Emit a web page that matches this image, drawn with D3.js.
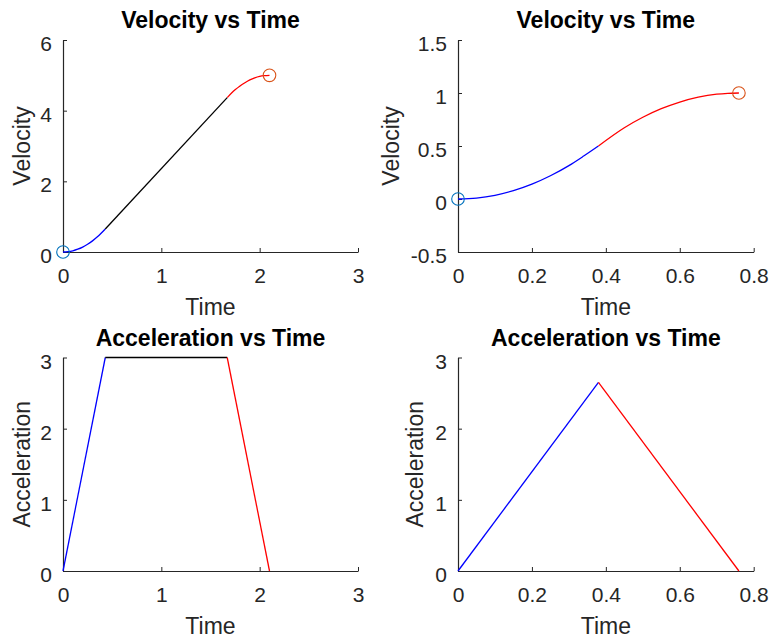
<!DOCTYPE html>
<html>
<head>
<meta charset="utf-8">
<script src="https://cdn.jsdelivr.net/npm/d3@7"></script>
<style>
  html, body { margin: 0; padding: 0; background: #fff; }
  svg { display: block; }
  text { font-family: "Liberation Sans", Arial, Helvetica, sans-serif; }
</style>
</head>
<body>
<svg id="fig" width="773" height="639"></svg>
<script>
// ---- Profile with a constant-acceleration stretch (left column) ----
const velRampUpT_L   = [0, 0.05, 0.1, 0.15, 0.2, 0.25, 0.3, 0.35, 0.43];
const velRampUpV_L   = [0, 0.009, 0.035, 0.079, 0.14, 0.219, 0.315, 0.429, 0.65];
const velCruiseT_L   = [0.43, 1.67];
const velCruiseV_L   = [0.65, 4.37];
const velRampDownT_L = [1.67, 1.75, 1.8, 1.85, 1.9, 1.95, 2.0, 2.05, 2.1];
const velRampDownV_L = [4.37, 4.59, 4.70, 4.79, 4.87, 4.93, 4.97, 4.99, 5.0];

const accRampUpT_L   = [0, 0.43];
const accRampUpA_L   = [0, 3];
const accCruiseT_L   = [0.43, 1.67];
const accCruiseA_L   = [3, 3];
const accRampDownT_L = [1.67, 2.1];
const accRampDownA_L = [3, 0];

// ---- Triangular acceleration profile (right column) ----
const velRampUpT_R   = [0, 0.05, 0.1, 0.15, 0.2, 0.25, 0.3, 0.34, 0.38];
const velRampUpV_R   = [0, 0.009, 0.035, 0.079, 0.14, 0.219, 0.315, 0.405, 0.5];
const velRampDownT_R = [0.38, 0.45, 0.5, 0.55, 0.6, 0.65, 0.7, 0.73, 0.76];
const velRampDownV_R = [0.5, 0.672, 0.771, 0.852, 0.915, 0.961, 0.989, 0.997, 1.0];

const accRampUpT_R   = [0, 0.38];
const accRampUpA_R   = [0, 2.65];
const accRampDownT_R = [0.38, 0.76];
const accRampDownA_R = [2.65, 0];

// Start / end markers (time, velocity)
const markerStart_L = [0, 0];
const markerEnd_L   = [2.1, 5];
const markerStart_R = [0, 0];
const markerEnd_R   = [0.76, 1];

// Axis ticks
const xTicksL = [0, 1, 2, 3];
const xTickLabelsL = ["0", "1", "2", "3"];
const xTicksR = [0, 0.2, 0.4, 0.6, 0.8];
const xTickLabelsR = ["0", "0.2", "0.4", "0.6", "0.8"];
const yTicksVelL = [0, 2, 4, 6];
const yTickLabelsVelL = ["0", "2", "4", "6"];
const yTicksVelR = [-0.5, 0, 0.5, 1, 1.5];
const yTickLabelsVelR = ["-0.5", "0", "0.5", "1", "1.5"];
const yTicksAcc = [0, 1, 2, 3];
const yTickLabelsAcc = ["0", "1", "2", "3"];

const titles = ["Velocity vs Time", "Velocity vs Time", "Acceleration vs Time", "Acceleration vs Time"];
const xLabel = "Time";
const yLabels = ["Velocity", "Velocity", "Acceleration", "Acceleration"];

// ---- Drawing ----
const AX = "#262626";
const BLUE = "#0000ff", BLACK = "#000000", RED = "#ff0000";
const MK_START = "#0072bd", MK_END = "#d95319";

const zip = (xs, ys) => xs.map((x, i) => [x, ys[i]]);

const panels = [
  { x0: 63, x1: 358, y0: 252, y1: 40, xd: [0, 3], yd: [0, 6],
    xt: xTicksL, xl: xTickLabelsL, yt: yTicksVelL, yl: yTickLabelsVelL, ylx: 22,
    title: titles[0], ylab: yLabels[0], smooth: true,
    segs: [[zip(velRampUpT_L, velRampUpV_L), BLUE], [zip(velCruiseT_L, velCruiseV_L), BLACK], [zip(velRampDownT_L, velRampDownV_L), RED]],
    markers: [[markerStart_L, MK_START], [markerEnd_L, MK_END]] },
  { x0: 458, x1: 753.7, y0: 252, y1: 40, xd: [0, 0.8], yd: [-0.5, 1.5],
    xt: xTicksR, xl: xTickLabelsR, yt: yTicksVelR, yl: yTickLabelsVelR, ylx: 391,
    title: titles[1], ylab: yLabels[1], smooth: true,
    segs: [[zip(velRampUpT_R, velRampUpV_R), BLUE], [zip(velRampDownT_R, velRampDownV_R), RED]],
    markers: [[markerStart_R, MK_START], [markerEnd_R, MK_END]] },
  { x0: 63, x1: 358, y0: 571, y1: 357.5, xd: [0, 3], yd: [0, 3],
    xt: xTicksL, xl: xTickLabelsL, yt: yTicksAcc, yl: yTickLabelsAcc, ylx: 22,
    title: titles[2], ylab: yLabels[2], smooth: false,
    segs: [[zip(accRampUpT_L, accRampUpA_L), BLUE], [zip(accCruiseT_L, accCruiseA_L), BLACK], [zip(accRampDownT_L, accRampDownA_L), RED]],
    markers: [] },
  { x0: 458, x1: 753.7, y0: 571, y1: 357.5, xd: [0, 0.8], yd: [0, 3],
    xt: xTicksR, xl: xTickLabelsR, yt: yTicksAcc, yl: yTickLabelsAcc, ylx: 415,
    title: titles[3], ylab: yLabels[3], smooth: false,
    segs: [[zip(accRampUpT_R, accRampUpA_R), BLUE], [zip(accRampDownT_R, accRampDownA_R), RED]],
    markers: [] }
];

const svg = d3.select("#fig");
svg.append("rect").attr("width", 773).attr("height", 639).attr("fill", "#fff");

panels.forEach(p => {
  const x = d3.scaleLinear().domain(p.xd).range([p.x0, p.x1]);
  const y = d3.scaleLinear().domain(p.yd).range([p.y0, p.y1]);
  const g = svg.append("g");

  // x axis (ticks point inward)
  const gx = g.append("g")
    .attr("transform", `translate(0,${p.y0})`)
    .call(d3.axisBottom(x).tickValues(p.xt).tickFormat((d, i) => p.xl[i])
      .tickSizeInner(-4).tickSizeOuter(0).tickPadding(16));
  // y axis
  const gy = g.append("g")
    .attr("transform", `translate(${p.x0},0)`)
    .call(d3.axisLeft(y).tickValues(p.yt).tickFormat((d, i) => p.yl[i])
      .tickSizeInner(-4).tickSizeOuter(0).tickPadding(11));

  [gx, gy].forEach(a => {
    a.attr("color", AX).attr("font-size", 21)
     .attr("font-family", "'Liberation Sans', Arial, Helvetica, sans-serif");
    a.select(".domain").attr("stroke-width", 1.2);
    a.selectAll(".tick line").attr("stroke-width", 1);
    a.selectAll(".tick text").attr("fill", AX);
  });
  gy.selectAll(".tick text").attr("dy", "0.5em");

  // data lines
  const line = d3.line().x(d => x(d[0])).y(d => y(d[1]))
    .curve(p.smooth ? d3.curveMonotoneX : d3.curveLinear);
  p.segs.forEach(([pts, col]) => {
    g.append("path").datum(pts).attr("d", line)
      .attr("fill", "none").attr("stroke", col).attr("stroke-width", 1.3)
      .attr("stroke-linejoin", "round");
  });

  // start / end markers
  p.markers.forEach(([pt, col]) => {
    g.append("circle").attr("cx", x(pt[0])).attr("cy", y(pt[1])).attr("r", 6.3)
      .attr("fill", "none").attr("stroke", col).attr("stroke-width", 1.1);
  });

  // title
  g.append("text").attr("x", (p.x0 + p.x1) / 2).attr("y", p.y1 - 12)
    .attr("text-anchor", "middle").attr("font-size", 23).attr("font-weight", "bold")
    .attr("fill", "#000").text(p.title);

  // x label
  g.append("text").attr("x", (p.x0 + p.x1) / 2).attr("y", p.y0 + 63)
    .attr("text-anchor", "middle").attr("font-size", 23).attr("fill", AX).text(xLabel);

  // y label
  g.append("text")
    .attr("transform", `translate(${p.ylx},${(p.y0 + p.y1) / 2}) rotate(-90)`)
    .attr("text-anchor", "middle").attr("dy", "0.35em")
    .attr("font-size", 23).attr("fill", AX).text(p.ylab);
});
</script>
</body>
</html>
